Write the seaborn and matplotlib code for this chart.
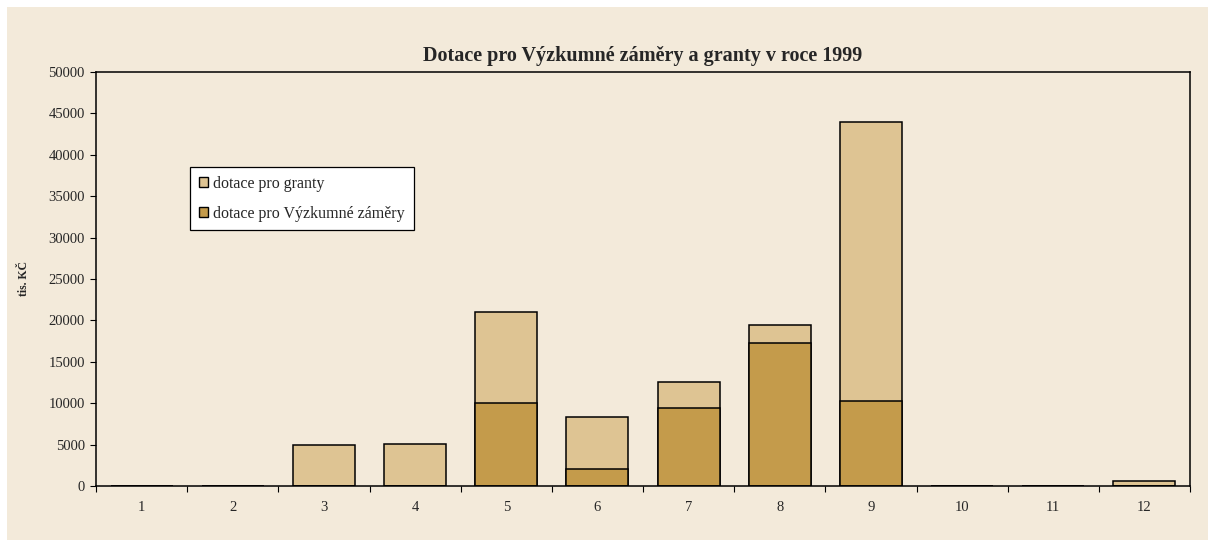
import matplotlib
matplotlib.use("Agg")
import matplotlib.pyplot as plt
from matplotlib.patches import Patch, Rectangle
import seaborn as sns
import pandas as pd
import numpy as np

# data (tis. Kč)
categories = [str(i) for i in range(1, 13)]
vyzkumne_zamery = [0, 0, 0, 0, 10020, 2050, 9420, 17270, 10270, 0, 0, 0]
granty = [0, 0, 4950, 5130, 10990, 6280, 3140, 2170, 33690, 0, 60, 600]

title = "Dotace pro Výzkumné záměry a granty v roce 1999"
ylabel = "tis. KČ"
label_granty = "dotace pro granty"
label_vz = "dotace pro Výzkumné záměry"

col_granty = "#DEC493"
col_vz = "#C49B4B"
bg = "#F3EADA"

df = pd.DataFrame({
    "kat": categories,
    "vz": vyzkumne_zamery,
    "celkem": np.array(vyzkumne_zamery) + np.array(granty),
})

sns.set_style("white")
plt.rcParams["font.family"] = ["Liberation Serif", "DejaVu Serif"]

fig = plt.figure(figsize=(12.15, 5.46), dpi=100, facecolor="white")
fig.patches.append(Rectangle((7 / 1215, 6 / 546), 1201 / 1215, 533 / 546,
                             transform=fig.transFigure, facecolor=bg,
                             edgecolor="none", zorder=-10))
ax = fig.add_axes([96 / 1215, 1 - 486 / 546, 1094 / 1215, 414 / 546])
ax.set_facecolor(bg)

# stacked bars: total first (granty on top), then VZ over it
sns.barplot(data=df, x="kat", y="celkem", color=col_granty, saturation=1,
            width=0.68, edgecolor="black", linewidth=1.1, ax=ax)
sns.barplot(data=df, x="kat", y="vz", color=col_vz, saturation=1,
            width=0.68, edgecolor="black", linewidth=1.1, ax=ax)

ax.set_xlim(-0.5, 11.5)
ax.set_ylim(0, 50000)
ax.set_yticks(np.arange(0, 50001, 5000))
ax.set_xticks(np.arange(-0.5, 12, 1), minor=True)
ax.tick_params(axis="x", which="major", length=0, pad=11, labelsize=10.5)
ax.tick_params(axis="x", which="minor", length=4, width=0.8, direction="out",
               bottom=True, color="black")
ax.tick_params(axis="y", length=4, width=0.8, direction="out", left=True,
               labelsize=10.5, pad=4, color="black")
for s in ax.spines.values():
    s.set_visible(True)
    s.set_color("black")
    s.set_linewidth(1.1)

ax.set_xlabel("")
ax.set_ylabel(ylabel, fontsize=8.5, fontweight="bold", labelpad=13)
ax.set_title(title, fontsize=14.5, fontweight="bold", pad=8)

handles = [Patch(facecolor=col_granty, edgecolor="black", label=label_granty),
           Patch(facecolor=col_vz, edgecolor="black", label=label_vz)]
leg = ax.legend(handles=handles, loc="upper left", bbox_to_anchor=(0.086, 0.770),
                borderaxespad=0, fancybox=False, framealpha=1, facecolor="white",
                edgecolor="black", fontsize=11.5, handlelength=0.6,
                handleheight=0.6, handletextpad=0.3, labelspacing=0.85,
                borderpad=0.55)
leg.get_frame().set_linewidth(0.9)

fig.savefig("out.png", dpi=100, facecolor="white")
